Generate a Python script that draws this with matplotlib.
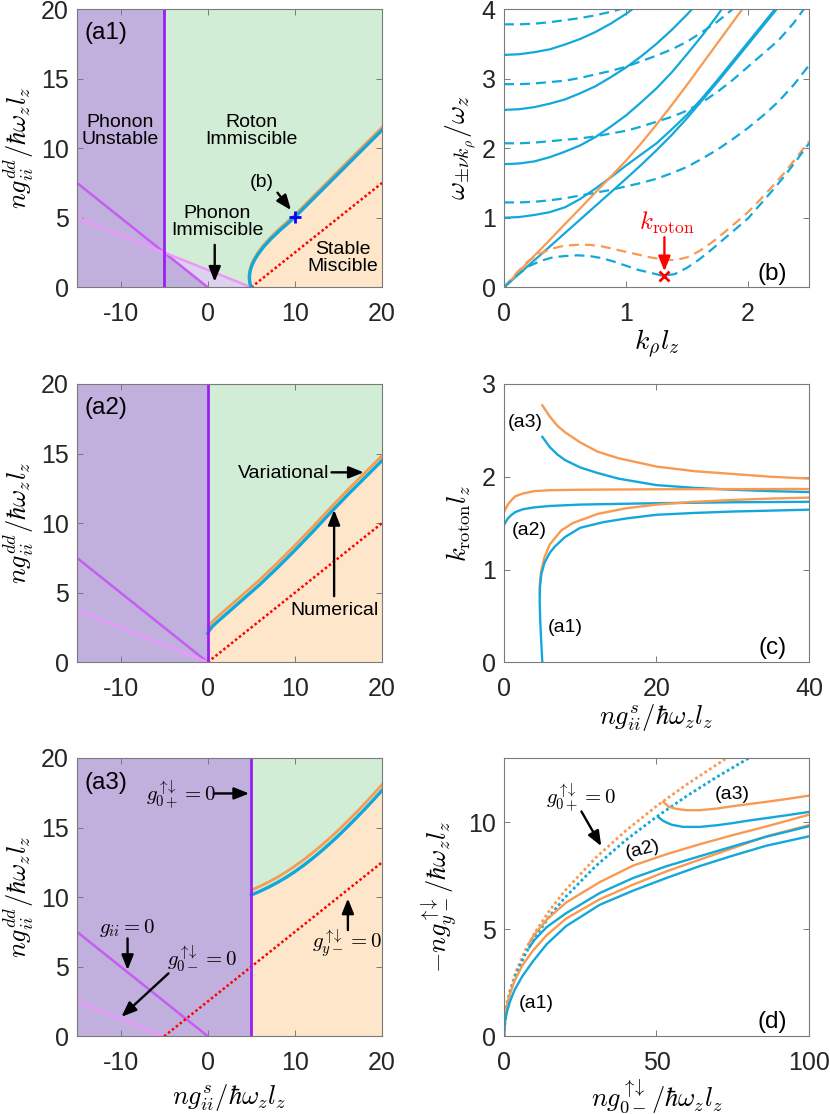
import numpy as np
import matplotlib
matplotlib.use('Agg')
import matplotlib.pyplot as plt

plt.rcParams['font.family'] = ['Liberation Sans', 'DejaVu Sans']
plt.rcParams['mathtext.fontset'] = 'cm'
plt.rcParams['axes.unicode_minus'] = False

# colours
blue = '#12A8DA'
orange = '#F89A52'
purple_fill = '#C1B0DD'
purple_light = '#DDD1EF'
green_fill = '#D1EDD5'
peach_fill = '#FDE6CA'
vline_col = '#9A1EF2'
gii_col = '#C65CF4'
g0m_col = '#EA98FB'
red = '#FF0000'
frame_col = '#7a7a7a'

# ---------------- data ----------------
a_xlim = (-15, 20)
a_ylim = (0, 20)

# (a1)
a1_xv = -5
a1_gii_x = [-15, 0]
a1_gii_y = [7.5, 0]
a1_g0m_x = [-15, 5]
a1_g0m_y = [5, 0]
a1_gym_x = [5, 20]
a1_gym_y = [0, 7.5]
a1_num_x = [5.0, 4.86, 4.79, 4.79, 4.88, 5.05, 5.35, 5.8, 6.4, 7.2, 8.2, 9.2, 10.0, 12.0, 14.0, 16.0, 18.0, 20.0]
a1_num_y = [0.0, 0.25, 0.55, 0.85, 1.2, 1.55, 1.95, 2.4, 2.9, 3.45, 4.05, 4.6, 5.05, 6.3, 7.55, 8.8, 10.05, 11.3]
a1_var_x = [5.0, 4.82, 4.74, 4.74, 4.83, 5.0, 5.3, 5.75, 6.35, 7.15, 8.15, 9.15, 10.0, 12.0, 14.0, 16.0, 18.0, 20.0]
a1_var_y = [0.0, 0.3, 0.6, 0.9, 1.25, 1.62, 2.03, 2.5, 3.0, 3.56, 4.17, 4.73, 5.2, 6.47, 7.73, 9.0, 10.25, 11.5]
a1_mark = (10.0, 5.05)

# (a2)
a2_xv = 0
a2_gii_x = [-15, 0]
a2_gii_y = [7.5, 0]
a2_g0m_x = [-15, 0]
a2_g0m_y = [3.75, 0]
a2_gym_x = [0, 20]
a2_gym_y = [0, 10]
a2_num_x = [0, 0.25, 0.5, 1, 2, 3, 4, 5, 6, 8, 10, 12, 14, 16, 18, 20]
a2_num_y = [2.08, 2.35, 2.55, 2.85, 3.4, 3.95, 4.5, 5.05, 5.6, 6.8, 8.05, 9.35, 10.7, 12.0, 13.25, 14.5]
a2_var_x = [0, 0.25, 0.5, 1, 2, 3, 4, 5, 6, 8, 10, 12, 14, 16, 18, 20]
a2_var_y = [2.45, 2.7, 2.9, 3.2, 3.75, 4.3, 4.85, 5.4, 5.95, 7.15, 8.4, 9.7, 11.05, 12.35, 13.6, 14.85]

# (a3)
a3_xv = 5
a3_gii_x = [-15, 0]
a3_gii_y = [7.5, 0]
a3_g0m_x = [-15, -5]
a3_g0m_y = [2.5, 0]
a3_gym_x = [-5, 20]
a3_gym_y = [0, 12.5]
a3_num_x = [5, 6, 7, 8, 9, 10, 11, 12, 13, 14, 15, 16, 17, 18, 19, 20]
a3_num_y = [10.15, 10.42, 10.72, 11.05, 11.42, 11.83, 12.28, 12.77, 13.29, 13.84, 14.42, 15.03, 15.66, 16.31, 16.98, 17.67]
a3_var_x = [5, 6, 7, 8, 9, 10, 11, 12, 13, 14, 15, 16, 17, 18, 19, 20]
a3_var_y = [10.5, 10.78, 11.09, 11.43, 11.81, 12.23, 12.68, 13.17, 13.69, 14.24, 14.82, 15.43, 16.06, 16.71, 17.39, 18.08]

# (b) excitation spectrum
kb = [0, 0.125, 0.25, 0.375, 0.5, 0.625, 0.75, 0.875, 1.0, 1.125, 1.25,
      1.375, 1.5, 1.625, 1.75, 1.875, 2.0, 2.125, 2.25, 2.375, 2.5]
b_solid_blue = [
    [3.34, 3.35, 3.38, 3.42, 3.49, 3.57, 3.67, 3.79, 3.93, 4.09, 4.26],
    [2.55, 2.56, 2.59, 2.64, 2.70, 2.79, 2.89, 3.02, 3.16, 3.32, 3.50, 3.70, 3.92, 4.16],
    [1.77, 1.78, 1.81, 1.87, 1.95, 2.04, 2.16, 2.31, 2.47, 2.66, 2.86, 3.09, 3.35, 3.62, 3.91, 4.23],
    [1.00, 1.01, 1.04, 1.08, 1.15, 1.27, 1.42, 1.58, 1.75, 1.91, 2.07, 2.27, 2.48, 2.72, 2.98, 3.25,
     3.52, 3.79, 4.06],
    [0.00, 0.195, 0.39, 0.585, 0.78, 0.975, 1.17, 1.365, 1.56, 1.76, 1.97, 2.19, 2.43, 2.69, 2.95, 3.22,
     3.49, 3.76, 4.03],
]
b_solid_orange = [0, 0.23, 0.455, 0.68, 0.91, 1.135, 1.365, 1.59, 1.82, 2.07, 2.34, 2.62, 2.91,
                  3.21, 3.51, 3.81, 4.11]
b_dash_blue = [
    [3.78, 3.78, 3.79, 3.81, 3.84, 3.87, 3.91, 3.96, 4.02, 4.08],
    [2.92, 2.92, 2.93, 2.95, 2.97, 3.01, 3.06, 3.11, 3.17, 3.25, 3.33, 3.42, 3.53, 3.67, 3.82, 4.0, 4.2],
    [2.07, 2.07, 2.08, 2.10, 2.12, 2.14, 2.17, 2.21, 2.25, 2.31, 2.38, 2.45, 2.54, 2.66, 2.81, 2.98,
     3.17, 3.36, 3.55, 3.8, 4.1],
    [1.22, 1.22, 1.23, 1.25, 1.28, 1.32, 1.36, 1.40, 1.45, 1.50, 1.56, 1.64, 1.73, 1.85, 1.98, 2.13,
     2.29, 2.47, 2.67, 2.91, 3.19],
]
kr = [0, 0.1, 0.2, 0.3, 0.4, 0.5, 0.6, 0.7, 0.8, 0.9, 1.0, 1.1, 1.2,
      1.3, 1.4, 1.5, 1.6, 1.7, 1.8, 1.9, 2.0, 2.1, 2.2, 2.3, 2.4, 2.5]
b_rot_blue = [0, 0.16, 0.3, 0.38, 0.43, 0.45, 0.46, 0.45, 0.42, 0.37, 0.31, 0.25, 0.21,
              0.165, 0.19, 0.28, 0.4, 0.54, 0.69, 0.84, 0.99, 1.19, 1.39, 1.6, 1.83, 2.07]
b_rot_orange = [0, 0.2, 0.38, 0.49, 0.56, 0.6, 0.61, 0.61, 0.59, 0.55, 0.51, 0.47, 0.43,
                0.4, 0.39, 0.43, 0.52, 0.64, 0.78, 0.93, 1.08, 1.26, 1.45, 1.65, 1.87, 2.1]
b_roton_min = (1.315, 0.165)

# (c) roton momentum
c_a1_blue_x = [5.03, 4.9, 4.75, 4.68, 4.72, 4.9, 5.3, 6.0, 6.7, 8, 10, 13, 16, 20, 25, 30, 35, 40]
c_a1_blue_y = [0, 0.2, 0.45, 0.65, 0.82, 0.95, 1.07, 1.18, 1.25, 1.35, 1.45, 1.51, 1.55, 1.59, 1.61, 1.625, 1.635, 1.645]
c_a1_orange_x = [4.68, 4.72, 4.85, 5.3, 6.0, 7.5, 9, 12.3, 16, 20, 25, 30, 35, 40]
c_a1_orange_y = [0.74, 0.85, 0.97, 1.13, 1.27, 1.42, 1.5, 1.6, 1.66, 1.7, 1.73, 1.75, 1.765, 1.775]
c_a2_x = [0, 0.5, 1, 1.5, 2.5, 4, 6, 10, 20, 30, 40]
c_a2_blue_y = [1.48, 1.55, 1.59, 1.62, 1.65, 1.67, 1.685, 1.7, 1.715, 1.725, 1.73]
c_a2_orange_y = [1.62, 1.7, 1.75, 1.79, 1.82, 1.845, 1.855, 1.86, 1.865, 1.867, 1.868]
c_a3_x = [5.03, 6, 7, 8, 10, 12.3, 15, 20, 25, 30, 35, 40]
c_a3_blue_y = [2.43, 2.32, 2.24, 2.18, 2.1, 2.04, 1.98, 1.91, 1.88, 1.86, 1.845, 1.835]
c_a3_orange_y = [2.77, 2.65, 2.55, 2.48, 2.37, 2.27, 2.2, 2.11, 2.06, 2.03, 2.0, 1.98]

# (d) critical interspecies coupling
d_dot_orange_x = [0, 0.5, 1, 2, 4, 7, 10, 15, 20, 30, 40, 50, 60, 72, 80]
d_dot_orange_y = [0, 1.07, 1.52, 2.15, 3.04, 4.02, 4.81, 5.89, 6.8, 8.33, 9.61, 10.75, 11.77, 12.9, 13.6]
d_dot_blue_x = [0, 0.5, 1, 2, 4, 7, 10, 15, 20, 30, 40, 50, 60, 70, 80, 86]
d_dot_blue_y = [0, 1.03, 1.45, 2.05, 2.9, 3.84, 4.59, 5.62, 6.48, 7.94, 9.17, 10.25, 11.23, 12.13, 12.97, 13.45]
d_a1_x = [0, 0.3, 1, 2, 3.5, 6, 9.5, 14, 20.4, 31.4, 42.3, 53.2, 64.2, 75.1, 86, 100]
d_a1_blue_y = [0, 0.65, 1.15, 1.63, 2.17, 2.8, 3.5, 4.3, 5.15, 6.14, 6.8, 7.39, 7.95, 8.44, 8.9, 9.34]
d_a1_orange_y = [0, 0.85, 1.45, 2.0, 2.6, 3.3, 4.0, 4.72, 5.5, 6.4, 7.08, 7.7, 8.25, 8.79, 9.34, 9.86]
d_a2_orange_x = [8.0, 10, 14, 20.4, 31.4, 42.3, 53.2, 64.2, 75.1, 86, 100]
d_a2_orange_y = [4.3, 4.75, 5.45, 6.25, 7.2, 7.97, 8.5, 8.97, 9.4, 9.8, 10.35]
d_a2_blue_x = [8.3, 10, 14, 20.4, 31.4, 42.3, 53.2, 64.2, 75.1, 86, 100]
d_a2_blue_y = [4.15, 4.5, 5.1, 5.75, 6.69, 7.39, 7.94, 8.41, 8.87, 9.32, 9.81]
d_a3_orange_x = [52.2, 54, 56.5, 60, 64.2, 70, 75.1, 80, 86, 93, 100]
d_a3_orange_y = [10.95, 10.72, 10.62, 10.56, 10.56, 10.64, 10.75, 10.84, 10.95, 11.09, 11.24]
d_a3_blue_x = [50.5, 52, 53.2, 55, 58.7, 64.2, 70, 75.1, 80, 86, 93, 100]
d_a3_blue_y = [10.25, 10.08, 9.99, 9.88, 9.78, 9.78, 9.86, 9.96, 10.07, 10.19, 10.33, 10.48]

ud = r'\uparrow\!\!\downarrow'
ylab_a = r'$ng_{ii}^{dd}/\hbar\omega_z l_z$'
xlab_s = r'$ng_{ii}^{s}/\hbar\omega_z l_z$'
dash = (0, (4.5, 2.7))
dots = (0, (1, 1))
lab_fs = 19


def style_axes(ax, xlim, ylim, xticks, yticks):
    ax.set_xlim(xlim)
    ax.set_ylim(ylim)
    ax.set_xticks(xticks)
    ax.set_yticks(yticks)
    ax.tick_params(direction='in', top=True, right=True, length=4.5, width=0.7,
                   color=frame_col, labelcolor='#262626', labelsize=18)
    ax.tick_params(axis='x', pad=10.5)
    ax.tick_params(axis='y', pad=6)
    for s in ax.spines.values():
        s.set_color(frame_col)
        s.set_linewidth(0.8)
        s.set_zorder(10)


def arrow(ax, tail, tip, color='k'):
    ax.annotate('', xy=tip, xytext=tail,
                arrowprops=dict(arrowstyle='-|>,head_length=0.45,head_width=0.18',
                                color=color, lw=1.7, shrinkA=0, shrinkB=0,
                                mutation_scale=20), zorder=8)


def phase_panel(ax, xv, gii_x, gii_y, g0m_x, g0m_y, gym_x, gym_y,
                num_x, num_y, var_x, var_y):
    ax.set_facecolor(green_fill)
    # stable miscible region below numerical boundary
    ax.fill(np.r_[num_x, a_xlim[1], num_x[0]], np.r_[num_y, 0, 0],
            color=peach_fill, lw=0, zorder=0)
    # phonon unstable region
    y_gii_v = np.interp(xv, gii_x, gii_y)
    x_end = max(gii_x[1], xv)
    ax.fill([a_xlim[0], a_xlim[0], xv, xv, x_end],
            [0, a_ylim[1], a_ylim[1], y_gii_v, 0],
            color=purple_fill, lw=0, zorder=1)
    # phonon immiscible region
    if g0m_x[1] > xv:
        y_g0m_v = np.interp(xv, g0m_x, g0m_y)
        ax.fill([xv, g0m_x[1], x_end], [y_g0m_v, 0, 0],
                color=purple_light, lw=0, zorder=1)
    ax.plot(gii_x, gii_y, color=gii_col, lw=1.8, zorder=2)
    ax.plot(g0m_x, g0m_y, color=g0m_col, lw=1.8, zorder=2)
    ax.plot(gym_x, gym_y, color=red, lw=1.8, ls=dots, zorder=3)
    ax.plot(var_x, var_y, color=orange, lw=2.0, zorder=3)
    ax.plot(num_x, num_y, color=blue, lw=2.4, zorder=3)
    ax.axvline(xv, color=vline_col, lw=2.0, zorder=4)
    style_axes(ax, a_xlim, a_ylim, [-10, 0, 10, 20], [0, 5, 10, 15, 20])
    ax.set_ylabel(ylab_a, fontsize=lab_fs)
    ax.yaxis.set_label_coords(-0.135, 0.5)


fig = plt.figure(figsize=(8.3, 11.14), dpi=100)
L1, L2, W = 0.0928, 0.6072, 0.3675
H = 0.2498
ax_a1 = fig.add_axes([L1, 0.7421, W, H])
ax_b = fig.add_axes([L2, 0.7421, W, H])
ax_a2 = fig.add_axes([L1, 0.4055, W, H])
ax_c = fig.add_axes([L2, 0.4055, W, H])
ax_a3 = fig.add_axes([L1, 0.0698, W, H])
ax_d = fig.add_axes([L2, 0.0698, W, H])

# ---- (a1)
ax = ax_a1
phase_panel(ax, a1_xv, a1_gii_x, a1_gii_y, a1_g0m_x, a1_g0m_y, a1_gym_x, a1_gym_y,
            a1_num_x, a1_num_y, a1_var_x, a1_var_y)
ax.plot(*a1_mark, '+', color='#0000FF', ms=9, mew=2, zorder=6)
ax.text(-11.7, 18.3, '(a1)', fontsize=17.5, ha='center', va='center')
ax.text(-10.1, 11.2, 'Phonon\nUnstable', fontsize=14, ha='center', va='center', linespacing=1.0)
ax.text(5.0, 11.2, 'Roton\nImmiscible', fontsize=14, ha='center', va='center', linespacing=1.0)
ax.text(1.1, 4.7, 'Phonon\nImmiscible', fontsize=14, ha='center', va='center', linespacing=1.0)
ax.text(15.45, 2.1, 'Stable\nMiscible', fontsize=14, ha='center', va='center', linespacing=1.0)
ax.text(6.15, 7.5, '(b)', fontsize=14, ha='center', va='center')
arrow(ax, (0.8, 3.05), (0.8, 0.4))
arrow(ax, (8.0, 6.8), (9.55, 5.55))

# ---- (a2)
ax = ax_a2
phase_panel(ax, a2_xv, a2_gii_x, a2_gii_y, a2_g0m_x, a2_g0m_y, a2_gym_x, a2_gym_y,
            a2_num_x, a2_num_y, a2_var_x, a2_var_y)
ax.text(-11.7, 18.3, '(a2)', fontsize=17.5, ha='center', va='center')
ax.text(8.7, 13.6, 'Variational', fontsize=14, ha='center', va='center')
ax.text(14.55, 3.7, 'Numerical', fontsize=14, ha='center', va='center')
arrow(ax, (14.2, 13.65), (17.9, 13.65))
arrow(ax, (14.5, 4.75), (14.5, 10.95))

# ---- (a3)
ax = ax_a3
phase_panel(ax, a3_xv, a3_gii_x, a3_gii_y, a3_g0m_x, a3_g0m_y, a3_gym_x, a3_gym_y,
            a3_num_x, a3_num_y, a3_var_x, a3_var_y)
ax.text(-11.7, 18.2, '(a3)', fontsize=17.5, ha='center', va='center')
ax.text(-3.1, 17.4, r'$g_{0+}^{%s}=0$' % ud, fontsize=15, ha='center', va='center')
ax.text(-9.2, 7.75, r'$g_{ii}=0$', fontsize=15, ha='center', va='center')
ax.text(-0.6, 5.55, r'$g_{0-}^{%s}=0$' % ud, fontsize=15, ha='center', va='center')
ax.text(16.0, 6.67, r'$g_{y-}^{%s}=0$' % ud, fontsize=15, ha='center', va='center')
arrow(ax, (0.7, 17.45), (4.75, 17.45))
arrow(ax, (-9.2, 7.03), (-9.2, 4.76))
arrow(ax, (-4.5, 4.52), (-9.9, 1.4))
arrow(ax, (16.08, 7.63), (16.08, 9.9))
ax.set_xlabel(xlab_s, fontsize=lab_fs)
ax.xaxis.set_label_coords(0.5, -0.165)

# ---- (b)
ax = ax_b
for yb in b_solid_blue:
    ax.plot(kb[:len(yb)], yb, color=blue, lw=1.6)
ax.plot(kb[:len(b_solid_orange)], b_solid_orange, color=orange, lw=1.6)
for yb in b_dash_blue:
    ax.plot(kb[:len(yb)], yb, color=blue, lw=1.6, ls=dash)
ax.plot(kr, b_rot_orange, color=orange, lw=1.6, ls=dash)
ax.plot(kr, b_rot_blue, color=blue, lw=1.6, ls=dash)
ax.plot(*b_roton_min, 'x', color=red, ms=7, mew=2, zorder=6)
arrow(ax, (1.315, 0.72), (1.315, 0.23), color=red)
ax.text(1.33, 0.92, r'$k_{\rm roton}$', fontsize=18, color=red, ha='center', va='center')
ax.text(2.2, 0.19, '(b)', fontsize=17.5, ha='center', va='center')
style_axes(ax, (0, 2.5), (0, 4), [0, 1, 2], [0, 1, 2, 3, 4])
ax.set_ylabel(r'$\omega_{\pm\nu k_\rho}/\omega_z$', fontsize=20)
ax.yaxis.set_label_coords(-0.085, 0.5)
ax.set_xlabel(r'$k_\rho l_z$', fontsize=20)
ax.xaxis.set_label_coords(0.5, -0.146)

# ---- (c)
ax = ax_c
ax.plot(c_a3_x, c_a3_orange_y, color=orange, lw=1.7)
ax.plot(c_a3_x, c_a3_blue_y, color=blue, lw=1.7)
ax.plot(c_a2_x, c_a2_orange_y, color=orange, lw=1.7)
ax.plot(c_a2_x, c_a2_blue_y, color=blue, lw=1.7)
ax.plot(c_a1_orange_x, c_a1_orange_y, color=orange, lw=1.7)
ax.plot(c_a1_blue_x, c_a1_blue_y, color=blue, lw=1.7)
ax.text(2.8, 2.59, '(a3)', fontsize=14, ha='center', va='center')
ax.text(3.3, 1.42, '(a2)', fontsize=14, ha='center', va='center')
ax.text(8.1, 0.38, '(a1)', fontsize=14, ha='center', va='center')
ax.text(35.2, 0.155, '(c)', fontsize=17.5, ha='center', va='center')
style_axes(ax, (0, 40), (0, 3), [0, 20, 40], [0, 1, 2, 3])
ax.set_ylabel(r'$k_{\rm roton}l_z$', fontsize=lab_fs)
ax.yaxis.set_label_coords(-0.10, 0.5)
ax.set_xlabel(xlab_s, fontsize=lab_fs)
ax.xaxis.set_label_coords(0.5, -0.143)

# ---- (d)
ax = ax_d
ax.plot(d_dot_orange_x, d_dot_orange_y, color=orange, lw=2.0, ls=dots)
ax.plot(d_dot_blue_x, d_dot_blue_y, color=blue, lw=2.0, ls=dots)
ax.plot(d_a1_x, d_a1_orange_y, color=orange, lw=1.7)
ax.plot(d_a1_x, d_a1_blue_y, color=blue, lw=1.7)
ax.plot(d_a2_orange_x, d_a2_orange_y, color=orange, lw=1.7)
ax.plot(d_a2_blue_x, d_a2_blue_y, color=blue, lw=1.7)
ax.plot(d_a3_orange_x, d_a3_orange_y, color=orange, lw=1.7)
ax.plot(d_a3_blue_x, d_a3_blue_y, color=blue, lw=1.7)
ax.text(25.4, 11.15, r'$g_{0+}^{%s}=0$' % ud, fontsize=15, ha='center', va='center')
arrow(ax, (25.4, 10.5), (31.9, 8.88))
ax.text(75.0, 11.3, '(a3)', fontsize=14, ha='center', va='center')
ax.text(45.6, 8.7, '(a2)', fontsize=14, ha='center', va='center', rotation=14)
ax.text(10.6, 1.55, '(a1)', fontsize=14, ha='center', va='center')
ax.text(88.1, 0.66, '(d)', fontsize=17.5, ha='center', va='center')
style_axes(ax, (0, 100), (0, 13), [0, 50, 100], [0, 5, 10])
ax.set_ylabel(r'$-ng_{y-}^{%s}/\hbar\omega_z l_z$' % ud, fontsize=lab_fs)
ax.yaxis.set_label_coords(-0.14, 0.5)
ax.set_xlabel(r'$ng_{0-}^{%s}/\hbar\omega_z l_z$' % ud, fontsize=lab_fs)
ax.xaxis.set_label_coords(0.5, -0.15)

fig.savefig('out.png', dpi=100)
